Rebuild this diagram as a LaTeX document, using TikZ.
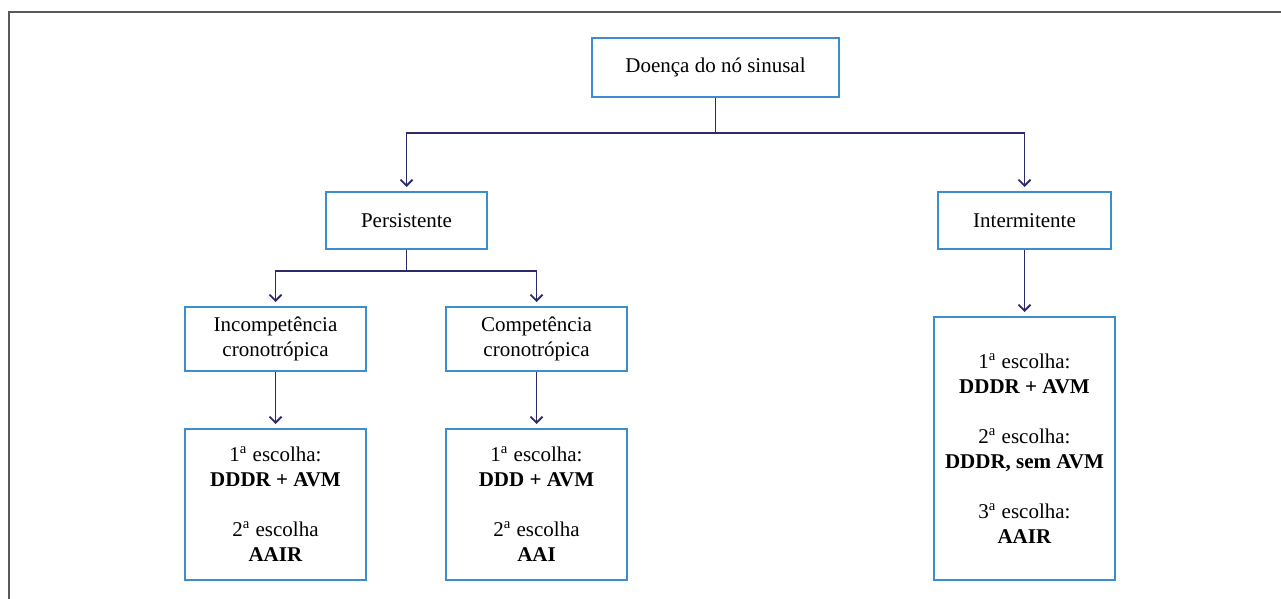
\documentclass[tikz,border=0pt]{standalone}
\usepackage{fontspec}
\setmainfont{Liberation Serif}
\usetikzlibrary{arrows.meta}
\definecolor{boxblue}{RGB}{60,141,208}
\definecolor{linenavy}{RGB}{43,42,107}
\newcommand{\escolha}[1]{#1\textsuperscript{a} escolha}

\begin{document}
\begin{tikzpicture}[x=0.5pt,y=-0.5pt,
    box/.style={draw=boxblue,line width=1pt,align=center,inner sep=2pt,font=\fontsize{10.5}{12.5}\selectfont},
    link/.style={linenavy,line width=0.9pt},
    arr/.style={link,-{Straight Barb[length=3pt,width=6pt]},shorten >=2pt}]
    \useasboundingbox (0,0) rectangle (1281,599);
    \draw[gray!70!black,line width=1pt] (9,599) -- (9,12) -- (1281,12);
    % boxes
    \node[box,minimum width=123.5pt,minimum height=29.5pt] (doenca) at (715.5,67.5) {Doença do nó sinusal};
    \node[box,minimum width=80.5pt,minimum height=28.5pt] (persist) at (406.5,220.5) {Persistente};
    \node[box,minimum width=86.5pt,minimum height=28.5pt] (intermit) at (1024.5,220.5) {Intermitente};
    \node[box,minimum width=90.5pt,minimum height=32pt] (incomp) at (275.5,339) {Incompetência\\cronotrópica};
    \node[box,minimum width=90.5pt,minimum height=32pt] (comp) at (536.5,339) {Competência\\cronotrópica};
    \node[box,minimum width=90.5pt,minimum height=75.5pt] (escIncomp) at (275.5,504.5) {\escolha{1}:\\\textbf{DDDR + AVM}\\[12.5pt]\escolha{2}\\\textbf{AAIR}};
    \node[box,minimum width=90.5pt,minimum height=75.5pt] (escComp) at (536.5,504.5) {\escolha{1}:\\\textbf{DDD + AVM}\\[12.5pt]\escolha{2}\\\textbf{AAI}};
    \node[box,minimum width=90.5pt,minimum height=131.5pt] (escInter) at (1024.5,448.5) {\escolha{1}:\\\textbf{DDDR + AVM}\\[12.5pt]\escolha{2}:\\\textbf{DDDR, sem AVM}\\[12.5pt]\escolha{3}:\\\textbf{AAIR}};
    % connectors
    \coordinate (ramoA) at (715.5,133);
    \coordinate (ramoB) at (406.5,271);
    \draw[link] (doenca) -- (ramoA);
    \draw[arr] (ramoA) -| (persist);
    \draw[arr] (ramoA) -| (intermit);
    \draw[link] (persist) -- (ramoB);
    \draw[arr] (ramoB) -| (incomp);
    \draw[arr] (ramoB) -| (comp);
    \draw[arr] (incomp) -- (escIncomp);
    \draw[arr] (comp) -- (escComp);
    \draw[arr] (intermit) -- (escInter);
\end{tikzpicture}
\end{document}
